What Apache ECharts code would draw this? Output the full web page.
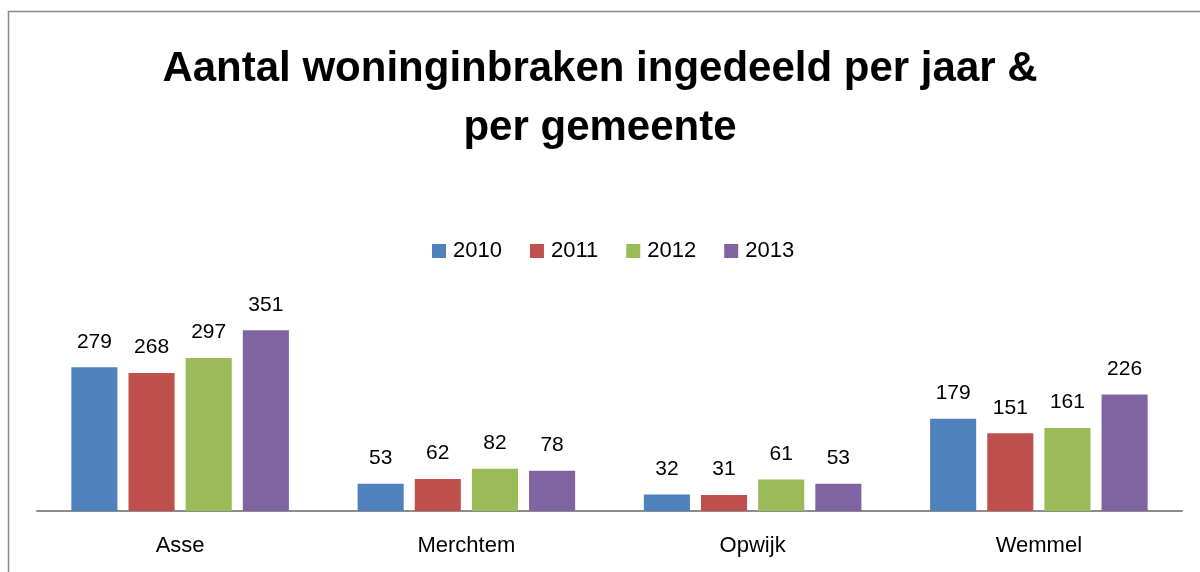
<!DOCTYPE html>
<html>
<head>
<meta charset="utf-8">
<script src="https://cdn.jsdelivr.net/npm/echarts@6/dist/echarts.min.js"></script>
<style>
  html, body { margin: 0; padding: 0; background: #fff; }
  #chart { width: 1200px; height: 572px; }
</style>
</head>
<body>
<div id="chart"></div>
<script>
// Burglaries per municipality, split by year
const categories = ['Asse', 'Merchtem', 'Opwijk', 'Wemmel'];
const years = ['2010', '2011', '2012', '2013'];
const values2010 = [279, 53, 32, 179];
const values2011 = [268, 62, 31, 151];
const values2012 = [297, 82, 61, 161];
const values2013 = [351, 78, 53, 226];
const colors = ['#4F81BD', '#C0504D', '#9BBB59', '#8064A2'];

const seriesValues = [values2010, values2011, values2012, values2013];
const font = '"Liberation Sans", Arial, sans-serif';

const chart = echarts.init(document.getElementById('chart'));
chart.setOption({
  animation: false,
  backgroundColor: '#fff',
  color: colors,
  title: {
    text: 'Aantal woninginbraken ingedeeld per jaar &\nper gemeente',
    left: 'center',
    top: 35,
    textStyle: {
      fontFamily: font,
      fontWeight: 'bold',
      fontSize: 42,
      lineHeight: 59,
      color: '#000'
    }
  },
  legend: {
    top: 235,
    left: 427,
    itemWidth: 14,
    itemHeight: 14,
    itemGap: 28,
    icon: 'rect',
    textStyle: { fontFamily: font, fontSize: 22, color: '#000', padding: [0, 0, 0, 2] },
    data: years
  },
  grid: { left: 37, right: 18, top: 305, bottom: 61 },
  xAxis: {
    type: 'category',
    data: categories,
    axisLine: { lineStyle: { color: '#8c8c8c', width: 2 } },
    axisTick: { show: false },
    axisLabel: { fontFamily: font, fontSize: 22, color: '#000', margin: 24 }
  },
  yAxis: {
    type: 'value',
    min: 0,
    max: 400,
    show: false,
    splitLine: { show: false }
  },
  series: years.map((y, i) => ({
    name: y,
    type: 'bar',
    data: seriesValues[i],
    barCategoryGap: '24%',
    barGap: '24%',
    itemStyle: { color: colors[i] },
    label: {
      show: true,
      position: 'top',
      distance: 15,
      fontFamily: font,
      fontSize: 21,
      color: '#000'
    }
  })),
  graphic: [{
    type: 'rect',
    shape: { x: 8.5, y: 11.5, width: 1300, height: 700 },
    style: { fill: 'none', stroke: '#888', lineWidth: 1.5 },
    silent: true
  }]
});
</script>
</body>
</html>
